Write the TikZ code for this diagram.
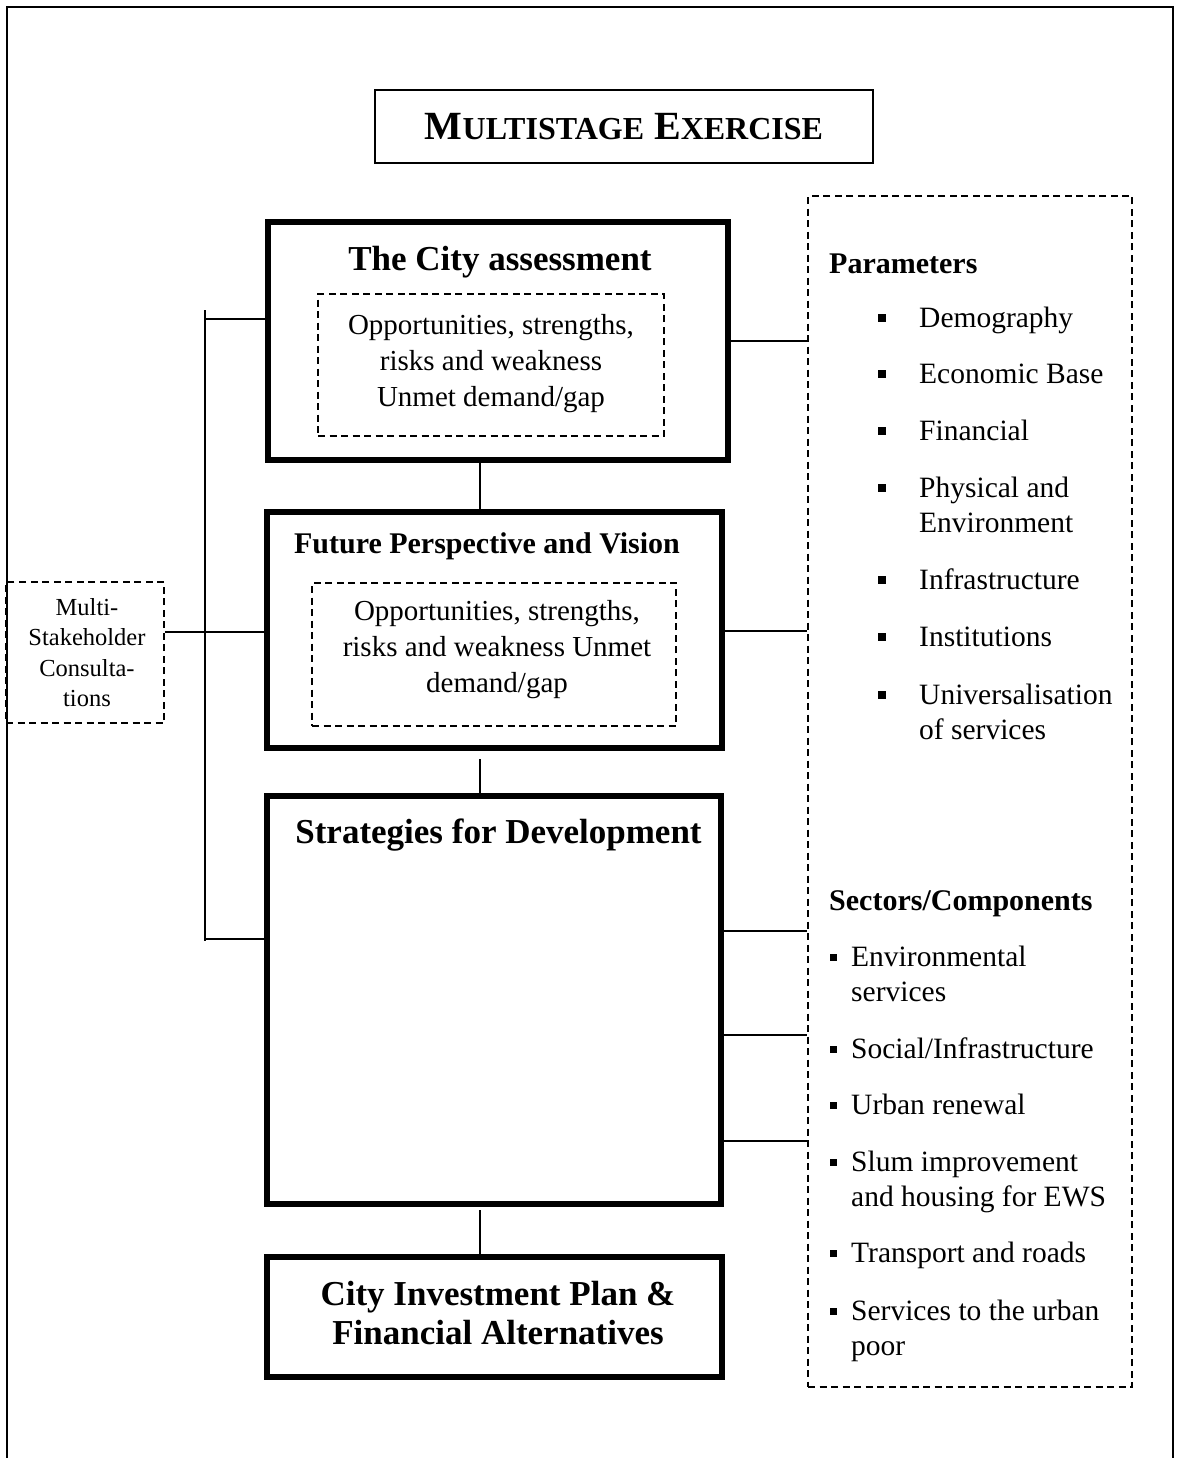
\documentclass[tikz,border=0pt]{standalone}
\usepackage{fontspec}
\setmainfont{Liberation Serif}
\usepackage{tikz}

\newcommand{\titlesc}[1]{{\fontsize{32}{40}\selectfont #1}}
\newcommand{\parbul}[1]{\rule[5pt]{8pt}{8pt}\hspace{33pt}\parbox[t]{230pt}{#1}}
\newcommand{\secbul}[1]{\rule[5pt]{7pt}{7pt}\hspace{14pt}\parbox[t]{270pt}{#1}}

\begin{document}
\begin{tikzpicture}[
  x=1pt, y=-1pt,
  frame/.style={line width=1.6pt},
  titlebox/.style={draw, line width=2.4pt, minimum width=498pt, minimum height=73pt,
    font=\bfseries\fontsize{40}{44}\selectfont},
  stage/.style={draw, line width=6pt, inner sep=0pt},
  dashbox/.style={draw, line width=1.8pt, dash pattern=on 7pt off 4.5pt, inner sep=0pt},
  head/.style={anchor=base, inner sep=0pt, font=\bfseries\fontsize{35}{39}\selectfont},
  subhead/.style={anchor=base west, inner sep=0pt, font=\bfseries\fontsize{30}{35}\selectfont},
  body/.style={anchor=base, inner sep=0pt, font=\fontsize{29}{36}\selectfont},
  note/.style={anchor=base, inner sep=0pt, font=\fontsize{24.5}{30.5}\selectfont},
  lst/.style={anchor=base west, inner sep=0pt, font=\fontsize{29.5}{35}\selectfont},
  link/.style={line width=1.8pt}
]
\useasboundingbox (0,0) rectangle (1177,1458);
% page frame, open at the foot
\draw[frame] (7,1458) -- (7,7) -- (1173,7) -- (1173,1458);

\node[titlebox] (title) at (624,126.5) {M\titlesc{ULTISTAGE} E\titlesc{XERCISE}};

% the four stages
\node[stage, minimum width=460pt, minimum height=238pt] (assess) at (498,341) {};
\node[head] (assesshd) at (500,270) {The City assessment};
\node[dashbox, minimum width=346pt, minimum height=142pt] (assessin) at (491,365) {};
\node[body] (assesstx) at (491,334) {\parbox[t]{340pt}{\centering Opportunities, strengths,\\ risks and weakness\\ Unmet demand/gap}};

\node[stage, minimum width=455pt, minimum height=236pt] (vision) at (494.5,630) {};
\node[head, font=\bfseries\fontsize{30}{35}\selectfont] (visionhd) at (487,553) {Future Perspective and Vision};
\node[dashbox, minimum width=364pt, minimum height=143pt] (visionin) at (494,654.5) {};
\node[body] (visiontx) at (497,620) {\parbox[t]{360pt}{\centering Opportunities, strengths,\\ risks and weakness Unmet\\ demand/gap}};

\node[stage, minimum width=454pt, minimum height=408pt] (strat) at (494,1000) {};
\node[head] (strathd) at (498.5,843) {Strategies for Development};

\node[stage, minimum width=455pt, minimum height=120pt] (plan) at (494.5,1317) {};
\node[head] (plantx) at (498,1305) {\parbox[t]{440pt}{\centering City Investment Plan \&\\ Financial Alternatives}};

% consultations on the left
\node[dashbox, minimum width=158pt, minimum height=141pt] (stake) at (85,652.5) {};
\node[note] (staketx) at (87,615) {\parbox[t]{150pt}{\centering Multi-\\ Stakeholder\\ Consulta-\\ tions}};

% parameters and sectors on the right
\node[dashbox, minimum width=324pt, minimum height=1191pt] (side) at (970,791.5) {};
\node[subhead] (parhd) at (829,273) {Parameters};
\node[lst] (pdemo) at (878,327) {\parbul{Demography}};
\node[lst] (pecon) at (878,383) {\parbul{Economic Base}};
\node[lst] (pfin) at (878,440) {\parbul{Financial}};
\node[lst] (pphys) at (878,497) {\parbul{Physical and\\ Environment}};
\node[lst] (pinfra) at (878,589) {\parbul{Infrastructure}};
\node[lst] (pinst) at (878,646) {\parbul{Institutions}};
\node[lst] (puniv) at (878,704) {\parbul{Universalisation\\ of services}};

\node[subhead] (sechd) at (829,910) {Sectors/Components};
\node[lst] (senv) at (830,966) {\secbul{Environmental\\ services}};
\node[lst] (ssoc) at (830,1058) {\secbul{Social/Infrastructure}};
\node[lst] (surb) at (830,1114) {\secbul{Urban renewal}};
\node[lst] (sslum) at (830,1171) {\secbul{Slum improvement\\ and housing for EWS}};
\node[lst] (stran) at (830,1262) {\secbul{Transport and roads}};
\node[lst] (sserv) at (830,1320) {\secbul{Services to the urban\\ poor}};

% links down the stages
\coordinate (spine) at (480,0);
\draw[link] (spine |- assess.south) -- (spine |- vision.north);
\draw[link, shorten <=8pt] (spine |- vision.south) -- (spine |- strat.north);
\draw[link, shorten <=3pt] (spine |- strat.south) -- (spine |- plan.north);

% bracket on the left
\coordinate (brtop) at (205,310);
\coordinate (brbot) at (205,941);
\draw[link] (brtop) -- (brbot);
\draw[link] (brtop |- 0,319) -- (assess.west |- 0,319);
\draw[link] (stake.east |- 0,632) -- (vision.west |- 0,632);
\draw[link] (brbot |- 0,939) -- (strat.west |- 0,939);

% links to the right
\draw[link] (assess.east |- 0,341) -- (side.west |- 0,341);
\draw[link] (vision.east |- 0,631) -- (side.west |- 0,631);
\foreach \yy in {931,1035,1141}
  \draw[link] (strat.east |- 0,\yy) -- (side.west |- 0,\yy);
\end{tikzpicture}
\end{document}
